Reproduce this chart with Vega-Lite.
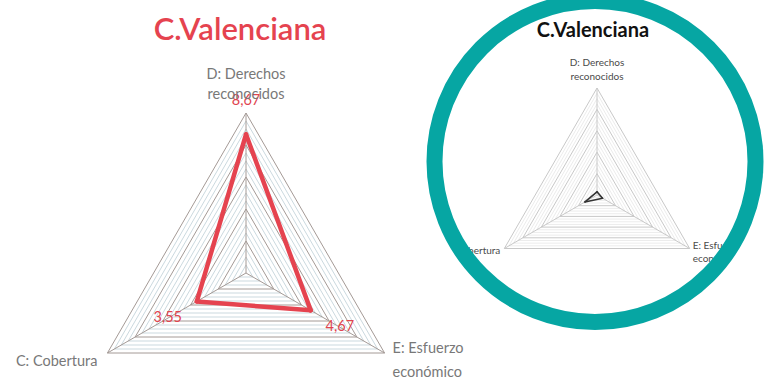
{
  "$schema": "https://vega.github.io/schema/vega-lite/v6.json",
  "width": 775,
  "height": 381,
  "autosize": "none",
  "padding": 0,
  "background": "white",
  "config": {"view": {"stroke": null}, "font": "Lato"},
  "datasets": {
    "scores": [
      {"chart": "main", "idx": 0, "axis": "D: Derechos reconocidos", "value": 8.67},
      {"chart": "main", "idx": 1, "axis": "E: Esfuerzo económico", "value": 4.67},
      {"chart": "main", "idx": 2, "axis": "C: Cobertura", "value": 3.55},
      {"chart": "inset", "idx": 0, "axis": "D: Derechos reconocidos", "value": 0.3},
      {"chart": "inset", "idx": 1, "axis": "E: Esfuerzo económico", "value": 0.6},
      {"chart": "inset", "idx": 2, "axis": "C: Cobertura", "value": 1.3}
    ],
    "axes": [
      {"chart": "main", "idx": 0, "label": "D: Derechos\nreconocidos"},
      {"chart": "main", "idx": 1, "label": "E: Esfuerzo\neconómico"},
      {"chart": "main", "idx": 2, "label": "C: Cobertura"},
      {"chart": "inset", "idx": 0, "label": "D: Derechos\nreconocidos"},
      {"chart": "inset", "idx": 1, "label": "E: Esfuerzo\neconómico"},
      {"chart": "inset", "idx": 2, "label": "C: Cobertura"}
    ],
    "titles": [
      {"chart": "main", "title": "C.Valenciana"},
      {"chart": "inset", "title": "C.Valenciana"}
    ]
  },
  "encoding": {
    "x": {"field": "x", "type": "quantitative", "scale": {"domain": [-15.375, 33.0625], "nice": false, "zero": false}, "axis": null},
    "y": {"field": "y", "type": "quantitative", "scale": {"domain": [-6.75, 17.0625], "nice": false, "zero": false}, "axis": null}
  },
  "layer": [
    {
      "data": {"values": [{"level": [0.5, 1, 1.5, 2, 2.5, 3, 3.5, 4, 4.5, 5, 5.5, 6, 6.5, 7, 7.5, 8, 8.5, 9, 9.5, 10], "side": [0, 1, 2], "chart": ["main", "inset"]}]},
      "transform": [
        {"flatten": ["level"]},
        {"flatten": ["side"]},
        {"flatten": ["chart"]},
        {"calculate": "datum.chart == 'main' ? 0 : 21.9375", "as": "cx"},
        {"calculate": "datum.chart == 'main' ? 0 : 4.875", "as": "cy"},
        {"calculate": "datum.chart == 'main' ? 1 : 0.66875", "as": "k"},
        {"calculate": "PI / 2 - datum.side * 2 * PI / 3", "as": "a1"},
        {"calculate": "datum.a1 - 2 * PI / 3", "as": "a2"},
        {"calculate": "datum.cx + datum.k * datum.level * cos(datum.a1)", "as": "x"},
        {"calculate": "datum.cy + datum.k * datum.level * sin(datum.a1)", "as": "y"},
        {"calculate": "datum.cx + datum.k * datum.level * cos(datum.a2)", "as": "x2"},
        {"calculate": "datum.cy + datum.k * datum.level * sin(datum.a2)", "as": "y2"},
        {"calculate": "datum.chart + (datum.level % 2 == 0 ? '-major' : '-minor')", "as": "kind"}
      ],
      "mark": {"type": "rule", "strokeWidth": 1},
      "encoding": {
        "x2": {"field": "x2"},
        "y2": {"field": "y2"},
        "color": {"field": "kind", "type": "nominal", "legend": null,
          "scale": {"domain": ["main-minor", "main-major", "inset-minor", "inset-major", "main-data", "inset-data"],
                    "range": ["#cbd9df", "#a49a96", "#ececec", "#c8c8c8", "#e5434f", "#333333"]}}
      }
    },
    {
      "data": {"values": [{"side": [0, 1, 2], "chart": ["main", "inset"]}]},
      "transform": [
        {"flatten": ["side"]},
        {"flatten": ["chart"]},
        {"calculate": "datum.chart == 'main' ? 0 : 21.9375", "as": "cx"},
        {"calculate": "datum.chart == 'main' ? 0 : 4.875", "as": "cy"},
        {"calculate": "datum.chart == 'main' ? 1 : 0.66875", "as": "k"},
        {"calculate": "PI / 2 - datum.side * 2 * PI / 3", "as": "a1"},
        {"calculate": "datum.cx", "as": "x"},
        {"calculate": "datum.cy", "as": "y"},
        {"calculate": "datum.cx + datum.k * 10 * cos(datum.a1)", "as": "x2"},
        {"calculate": "datum.cy + datum.k * 10 * sin(datum.a1)", "as": "y2"},
        {"calculate": "datum.chart + '-major'", "as": "kind"}
      ],
      "mark": {"type": "rule", "strokeWidth": 1},
      "encoding": {
        "x2": {"field": "x2"},
        "y2": {"field": "y2"},
        "color": {"field": "kind", "type": "nominal", "legend": null,
          "scale": {"domain": ["main-minor", "main-major", "inset-minor", "inset-major", "main-data", "inset-data"],
                    "range": ["#cbd9df", "#a49a96", "#ececec", "#c8c8c8", "#e5434f", "#333333"]}}
      }
    },
    {
      "data": {"name": "scores"},
      "transform": [
        {"window": [{"op": "lead", "field": "value", "as": "nextValue"}, {"op": "first_value", "field": "value", "as": "firstValue"}],
         "groupby": ["chart"], "sort": [{"field": "idx", "order": "ascending"}], "frame": [null, null]},
        {"calculate": "datum.nextValue != null ? datum.nextValue : datum.firstValue", "as": "nv"},
        {"calculate": "datum.chart == 'main' ? 0 : 21.9375", "as": "cx"},
        {"calculate": "datum.chart == 'main' ? 0 : 4.875", "as": "cy"},
        {"calculate": "datum.chart == 'main' ? 1 : 0.66875", "as": "k"},
        {"calculate": "PI / 2 - datum.idx * 2 * PI / 3", "as": "a1"},
        {"calculate": "datum.a1 - 2 * PI / 3", "as": "a2"},
        {"calculate": "datum.cx + datum.k * datum.value * cos(datum.a1)", "as": "x"},
        {"calculate": "datum.cy + datum.k * datum.value * sin(datum.a1)", "as": "y"},
        {"calculate": "datum.cx + datum.k * datum.nv * cos(datum.a2)", "as": "x2"},
        {"calculate": "datum.cy + datum.k * datum.nv * sin(datum.a2)", "as": "y2"},
        {"calculate": "datum.chart + '-data'", "as": "kind"}
      ],
      "mark": {"type": "rule", "strokeCap": "round"},
      "encoding": {
        "x2": {"field": "x2"},
        "y2": {"field": "y2"},
        "color": {"field": "kind", "type": "nominal", "legend": null,
          "scale": {"domain": ["main-minor", "main-major", "inset-minor", "inset-major", "main-data", "inset-data"],
                    "range": ["#cbd9df", "#a49a96", "#ececec", "#c8c8c8", "#e5434f", "#333333"]}},
        "strokeWidth": {"field": "chart", "type": "nominal", "legend": null, "scale": {"domain": ["main", "inset"], "range": [4.5, 1.6]}}
      }
    },
    {
      "data": {"name": "scores"},
      "transform": [
        {"filter": "datum.chart == 'main'"},
        {"calculate": "PI / 2 - datum.idx * 2 * PI / 3", "as": "a1"},
        {"calculate": "(datum.value + 2.1) * cos(datum.a1)", "as": "x"},
        {"calculate": "(datum.value + 2.1) * sin(datum.a1)", "as": "y"},
        {"calculate": "replace(format(datum.value, '.2f'), '.', ',')", "as": "lbl"}
      ],
      "mark": {"type": "text", "fontSize": 14.5, "color": "#e0444f", "align": "center", "baseline": "middle"},
      "encoding": {"text": {"field": "lbl"}}
    },
    {
      "data": {"name": "axes"},
      "transform": [
        {"filter": "datum.chart == 'main' && datum.idx == 0"},
        {"calculate": "10 * cos(PI / 2 - datum.idx * 2 * PI / 3)", "as": "x"},
        {"calculate": "10 * sin(PI / 2 - datum.idx * 2 * PI / 3)", "as": "y"}
      ],
      "mark": {"type": "text", "fontSize": 14.5, "color": "#787878", "align": "center", "baseline": "middle", "lineBreak": "\n", "lineHeight": 20, "dy": -38},
      "encoding": {"text": {"field": "label"}}
    },
    {
      "data": {"name": "axes"},
      "transform": [
        {"filter": "datum.chart == 'main' && datum.idx == 1"},
        {"calculate": "10 * cos(PI / 2 - datum.idx * 2 * PI / 3)", "as": "x"},
        {"calculate": "10 * sin(PI / 2 - datum.idx * 2 * PI / 3)", "as": "y"}
      ],
      "mark": {"type": "text", "fontSize": 14.5, "color": "#787878", "align": "left", "baseline": "middle", "lineBreak": "\n", "lineHeight": 24, "dx": 8, "dy": -4},
      "encoding": {"text": {"field": "label"}}
    },
    {
      "data": {"name": "axes"},
      "transform": [
        {"filter": "datum.chart == 'main' && datum.idx == 2"},
        {"calculate": "10 * cos(PI / 2 - datum.idx * 2 * PI / 3)", "as": "x"},
        {"calculate": "10 * sin(PI / 2 - datum.idx * 2 * PI / 3)", "as": "y"}
      ],
      "mark": {"type": "text", "fontSize": 14.5, "color": "#787878", "align": "right", "baseline": "middle", "dx": -10, "dy": 9},
      "encoding": {"text": {"field": "label"}}
    },
    {
      "data": {"name": "axes"},
      "transform": [
        {"filter": "datum.chart == 'inset' && datum.idx == 0"},
        {"calculate": "21.9375 + 0.66875 * 10 * cos(PI / 2 - datum.idx * 2 * PI / 3)", "as": "x"},
        {"calculate": "4.875 + 0.66875 * 10 * sin(PI / 2 - datum.idx * 2 * PI / 3)", "as": "y"}
      ],
      "mark": {"type": "text", "fontSize": 10, "color": "#4a4a4a", "align": "center", "baseline": "middle", "lineBreak": "\n", "lineHeight": 14, "dy": -25},
      "encoding": {"text": {"field": "label"}}
    },
    {
      "data": {"name": "axes"},
      "transform": [
        {"filter": "datum.chart == 'inset' && datum.idx == 1"},
        {"calculate": "21.9375 + 0.66875 * 10 * cos(PI / 2 - datum.idx * 2 * PI / 3)", "as": "x"},
        {"calculate": "4.875 + 0.66875 * 10 * sin(PI / 2 - datum.idx * 2 * PI / 3)", "as": "y"}
      ],
      "mark": {"type": "text", "fontSize": 10, "color": "#4a4a4a", "align": "left", "baseline": "middle", "lineBreak": "\n", "lineHeight": 13, "dx": 3, "dy": -3},
      "encoding": {"text": {"field": "label"}}
    },
    {
      "data": {"name": "axes"},
      "transform": [
        {"filter": "datum.chart == 'inset' && datum.idx == 2"},
        {"calculate": "21.9375 + 0.66875 * 10 * cos(PI / 2 - datum.idx * 2 * PI / 3)", "as": "x"},
        {"calculate": "4.875 + 0.66875 * 10 * sin(PI / 2 - datum.idx * 2 * PI / 3)", "as": "y"}
      ],
      "mark": {"type": "text", "fontSize": 10, "color": "#4a4a4a", "align": "right", "baseline": "middle", "dx": -4, "dy": 2},
      "encoding": {"text": {"field": "label"}}
    },
    {
      "data": {"name": "titles"},
      "transform": [
        {"filter": "datum.chart == 'main'"},
        {"calculate": "0", "as": "x"},
        {"calculate": "10", "as": "y"}
      ],
      "mark": {"type": "text", "fontSize": 31, "fontWeight": 600, "color": "#e5434f", "align": "center", "baseline": "middle", "dx": -6, "dy": -82},
      "encoding": {"text": {"field": "title"}}
    },
    {
      "data": {"name": "titles"},
      "transform": [
        {"filter": "datum.chart == 'inset'"},
        {"calculate": "21.9375", "as": "x"},
        {"calculate": "4.875 + 6.6875", "as": "y"}
      ],
      "mark": {"type": "text", "fontSize": 20, "fontWeight": "bold", "color": "#111111", "align": "center", "baseline": "middle", "dx": -4, "dy": -57},
      "encoding": {"text": {"field": "title"}}
    },
    {
      "data": {"values": [{"chart": "inset"}]},
      "transform": [
        {"calculate": "21.9375 - 0.125", "as": "x"},
        {"calculate": "4.875 + 2.09375", "as": "y"}
      ],
      "mark": {"type": "point", "shape": "circle", "filled": false, "color": "white", "strokeWidth": 26, "size": 131044, "opacity": 1}
    },
    {
      "data": {"values": [{"chart": "inset"}]},
      "transform": [
        {"calculate": "21.9375 - 0.125", "as": "x"},
        {"calculate": "4.875 + 2.09375", "as": "y"}
      ],
      "mark": {"type": "point", "shape": "circle", "filled": false, "color": "#06a6a3", "strokeWidth": 16, "size": 103041, "opacity": 1}
    }
  ]
}
